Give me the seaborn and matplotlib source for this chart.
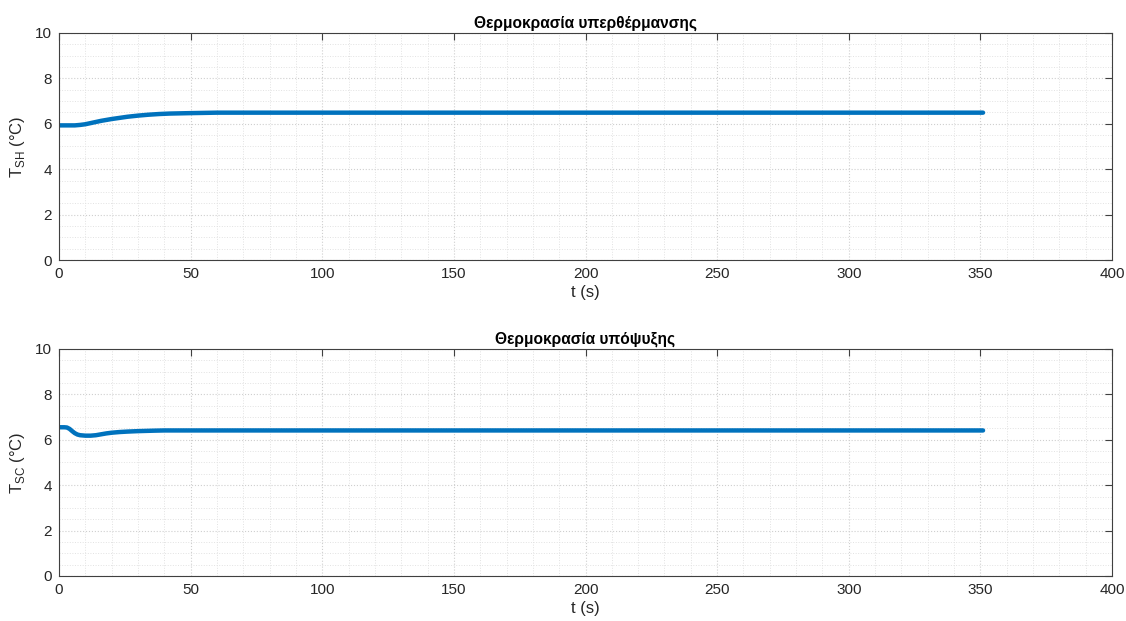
import matplotlib
matplotlib.use("Agg")
import matplotlib.pyplot as plt
from matplotlib.ticker import MultipleLocator
import seaborn as sns
import pandas as pd

# --- data ---
t_sh = [0, 3, 6, 8, 10, 12, 14, 16, 18, 20, 23, 26, 30, 34, 38, 42, 46, 50, 55, 60, 100, 150, 200, 250, 300, 351]
T_sh = [5.93, 5.93, 5.93, 5.95, 5.98, 6.03, 6.08, 6.13, 6.17, 6.21, 6.26, 6.31, 6.36, 6.40, 6.43, 6.45, 6.46, 6.47, 6.48, 6.49, 6.49, 6.49, 6.49, 6.49, 6.49, 6.49]

t_sc = [0, 2, 3, 4, 5, 6, 7, 8, 10, 12, 14, 16, 18, 20, 23, 26, 30, 33, 36, 40, 50, 100, 150, 200, 250, 300, 351]
T_sc = [6.55, 6.55, 6.54, 6.48, 6.38, 6.29, 6.23, 6.20, 6.18, 6.18, 6.20, 6.24, 6.28, 6.31, 6.34, 6.36, 6.38, 6.39, 6.40, 6.41, 6.41, 6.41, 6.41, 6.41, 6.41, 6.41, 6.41]

titles = ["Θερμοκρασία υπερθέρμανσης", "Θερμοκρασία υπόψυξης"]
ylabels = [r"T$_{\mathrm{SH}}$ (°C)", r"T$_{\mathrm{SC}}$ (°C)"]
xlabel = "t (s)"

sns.set_theme(style="white")
plt.rcParams['font.family'] = ['Liberation Sans', 'DejaVu Sans']
plt.rcParams['mathtext.fontset'] = 'custom'
plt.rcParams['mathtext.rm'] = 'Liberation Sans'

fig = plt.figure(figsize=(11.26, 6.21), dpi=100)
ax1 = fig.add_axes([0.0524, 0.5813, 0.9352, 0.3656])
ax2 = fig.add_axes([0.0524, 0.0725, 0.9352, 0.3656])

blue = "#0072BD"
dark = "#404040"

for ax, t, T, title, ylab in [(ax1, t_sh, T_sh, titles[0], ylabels[0]),
                               (ax2, t_sc, T_sc, titles[1], ylabels[1])]:
    df = pd.DataFrame({"t": t, "T": T})
    sns.lineplot(data=df, x="t", y="T", ax=ax, color=blue, linewidth=3.2)
    ax.set_xlim(0, 400)
    ax.set_ylim(0, 10)
    ax.xaxis.set_major_locator(MultipleLocator(50))
    ax.xaxis.set_minor_locator(MultipleLocator(10))
    ax.yaxis.set_major_locator(MultipleLocator(2))
    ax.yaxis.set_minor_locator(MultipleLocator(0.5))
    ax.grid(which="major", color="#cfcfcf", linestyle=":", linewidth=0.8)
    ax.grid(which="minor", color="#e2e2e2", linestyle=":", linewidth=0.7)
    ax.set_axisbelow(True)
    ax.tick_params(which="major", direction="in", length=5, width=0.8, color=dark,
                   labelsize=11, labelcolor="#262626", top=True, right=True, pad=5)
    ax.tick_params(which="minor", length=0)
    for s in ax.spines.values():
        s.set_color(dark)
        s.set_linewidth(0.8)
        s.set_visible(True)
    ax.set_title(title, fontsize=11.2, fontweight="bold", color="black", pad=4)
    ax.set_xlabel(xlabel, fontsize=12, color="#262626", labelpad=3)
    ax.set_ylabel(ylab, fontsize=12, color="#262626", labelpad=6)

fig.savefig("out.png", dpi=100, facecolor="white")
